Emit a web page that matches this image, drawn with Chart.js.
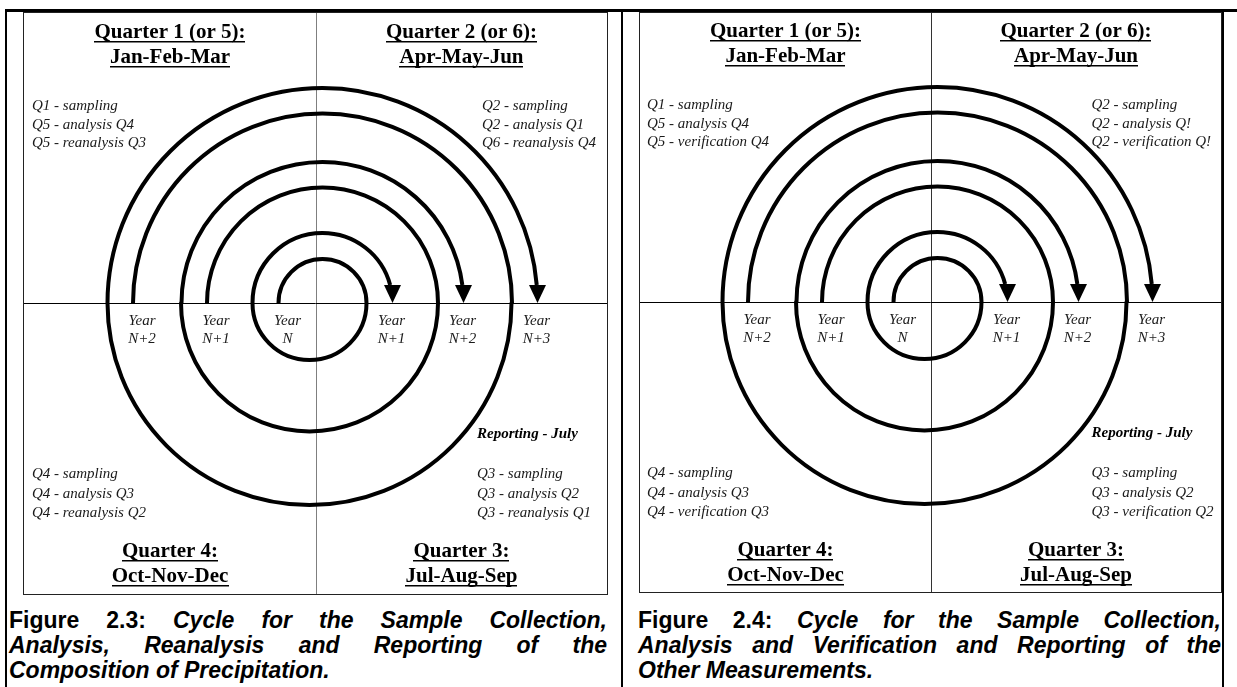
<!DOCTYPE html>
<html>
<head>
<meta charset="utf-8">
<script src="https://cdn.jsdelivr.net/npm/chart.js@4.4.1/dist/chart.umd.min.js"></script>
<style>
    html, body { margin: 0; padding: 0; background: #fff; }
    body { width: 1237px; height: 687px; position: relative; overflow: hidden; }
    .rule { position: absolute; background: #000; }
    .box { position: absolute; box-sizing: border-box; border: 1px solid #222; }
    .box canvas { display: block; }
    .caption {
        position: absolute;
        font-family: 'Liberation Sans', Arial, sans-serif;
        font-weight: bold;
        font-size: 23px;
        line-height: 25px;
        color: #000;
    }
    .caption div { white-space: nowrap; }
    .caption .j { text-align: justify; text-align-last: justify; white-space: normal; }
</style>
</head>
<body>

<div class="rule" style="left:5px; top:9px; width:1232px; height:3px;"></div>
<div class="rule" style="left:5px; top:9px; width:2px; height:678px;"></div>
<div class="rule" style="left:621px; top:9px; width:2px; height:678px;"></div>
<div class="rule" style="left:1222px; top:9px; width:2px; height:678px;"></div>

<div class="box" style="left:23px; top:12px; width:585px; height:583px;">
    <canvas id="cycle_chart_23" width="583" height="581"></canvas>
</div>
<div class="box" style="left:639px; top:12px; width:583px; height:581px;">
    <canvas id="cycle_chart_24" width="581" height="579"></canvas>
</div>

<div class="caption" id="caption_23" style="left:9px; top:608px; width:598px;"></div>
<div class="caption" id="caption_24" style="left:638px; top:608px; width:583px;"></div>

<script>
// Quarter headings (clockwise from top-left)
const quarterHeads = ['Quarter 1 (or 5):', 'Quarter 2 (or 6):', 'Quarter 3:', 'Quarter 4:'];
const quarterMonths = ['Jan-Feb-Mar', 'Apr-May-Jun', 'Jul-Aug-Sep', 'Oct-Nov-Dec'];

// Year where each spiral starts (left of centre) and where its arrow lands (right)
const yearsStart = ['N+2', 'N+1', 'N'];
const yearsEnd = ['N+3', 'N+2', 'N+1'];

// Spiral radii (outer, middle, inner spiral)
const spiralStartR = [189.5, 115.5, 44];    // first half-turn, above the axis
const spiralBottomR = [202, 128.5, 57];     // half-turn below the axis
const spiralEndR = [215, 141, 70];          // last half-turn, ends in the arrow
const topCentreX = 6.5;                     // centre of the upper half-turns
const bottomCentreX = -6.5;                 // centre of the lower half-turns

// Activity lists, figure 2.3
const tasksQ1_23 = ['Q1 - sampling', 'Q5 - analysis Q4', 'Q5 - reanalysis Q3'];
const tasksQ2_23 = ['Q2 - sampling', 'Q2 - analysis Q1', 'Q6 - reanalysis Q4'];
const tasksQ3_23 = ['Q3 - sampling', 'Q3 - analysis Q2', 'Q3 - reanalysis Q1'];
const tasksQ4_23 = ['Q4 - sampling', 'Q4 - analysis Q3', 'Q4 - reanalysis Q2'];

// Activity lists, figure 2.4
const tasksQ1_24 = ['Q1 - sampling', 'Q5 - analysis Q4', 'Q5 - verification Q4'];
const tasksQ2_24 = ['Q2 - sampling', 'Q2 - analysis Q!', 'Q2 - verification Q!'];
const tasksQ3_24 = ['Q3 - sampling', 'Q3 - analysis Q2', 'Q3 - verification Q2'];
const tasksQ4_24 = ['Q4 - sampling', 'Q4 - analysis Q3', 'Q4 - verification Q3'];

const reportingNote = 'Reporting - July';

// Captions
const captionLabel23 = 'Figure 2.3:';
const captionLines23 = ['Cycle for the Sample Collection,', 'Analysis, Reanalysis and Reporting of the', 'Composition of Precipitation.'];
const captionLabel24 = 'Figure 2.4:';
const captionLines24 = ['Cycle for the Sample Collection,', 'Analysis and Verification and Reporting of the', 'Other Measurements.'];

const SERIF = '"Liberation Serif", "Times New Roman", serif';

/**
 * Draw the three spirals (half-ellipses through the scales) with arrowheads
 */
const spiralPlugin = {
    id: 'spiral',
    afterDatasetsDraw(chart) {
        const ctx = chart.ctx;
        const xs = chart.scales.x;
        const ys = chart.scales.y;
        const px = v => xs.getPixelForValue(v);
        const py = v => ys.getPixelForValue(v);
        const unitX = px(1) - px(0);
        const unitY = py(0) - py(1);
        const arrowLen = 18;
        const arrowHalf = 8.5;
        const cy = py(0);

        ctx.save();
        ctx.strokeStyle = '#000';
        ctx.fillStyle = '#000';
        ctx.lineWidth = 4;
        ctx.lineCap = 'butt';
        ctx.lineJoin = 'round';

        for (let i = 0; i < spiralStartR.length; i++) {
            const r0 = spiralStartR[i], r1 = spiralBottomR[i], r2 = spiralEndR[i];
            const stop = Math.asin(Math.min(1, arrowLen / (r2 * unitY)));

            ctx.beginPath();
            ctx.ellipse(px(topCentreX), cy, r0 * unitX, r0 * unitY, 0, Math.PI, 2 * Math.PI);
            ctx.ellipse(px(bottomCentreX), cy, r1 * unitX, r1 * unitY, 0, 0, Math.PI);
            ctx.ellipse(px(topCentreX), cy, r2 * unitX, r2 * unitY, 0, Math.PI, 2 * Math.PI - stop);
            ctx.stroke();

            // arrowhead pointing down onto the axis
            const tipX = px(topCentreX + r2);
            ctx.beginPath();
            ctx.moveTo(tipX, cy);
            ctx.lineTo(tipX - arrowHalf, cy - arrowLen);
            ctx.lineTo(tipX + arrowHalf, cy - arrowLen);
            ctx.closePath();
            ctx.fill();
        }
        ctx.restore();
    }
};

function drawLabel(chart, text, xv, yv, font, align, underline) {
    const ctx = chart.ctx;
    const x = chart.scales.x.getPixelForValue(xv);
    const y = chart.scales.y.getPixelForValue(yv);
    ctx.font = font;
    ctx.textAlign = align;
    ctx.textBaseline = 'alphabetic';
    ctx.fillText(text, x, y);
    if (underline) {
        const w = ctx.measureText(text).width;
        const x0 = align === 'center' ? x - w / 2 : x;
        ctx.fillRect(Math.round(x0), Math.round(y + 3), Math.round(w), 1.5);
    }
}

/**
 * Quarter headings, activity lists and year labels
 */
const labelPlugin = {
    id: 'labels',
    afterDatasetsDraw(chart) {
        const p = chart.options.plugins.labels;
        const xs = chart.scales.x;
        const ctx = chart.ctx;
        const headFont = 'bold 21px ' + SERIF;
        const listFont = 'italic 15px ' + SERIF;
        const leftMid = xs.min / 2;
        const rightMid = xs.max / 2;

        ctx.save();
        ctx.fillStyle = '#000';

        // headings: Q1 top-left, Q2 top-right, Q3 bottom-right, Q4 bottom-left
        const headPos = [[leftMid, 265, 240], [rightMid, 265, 240], [rightMid, -254, -279], [leftMid, -254, -279]];
        headPos.forEach((h, i) => {
            drawLabel(chart, quarterHeads[i], h[0], h[1], headFont, 'center', true);
            drawLabel(chart, quarterMonths[i], h[0], h[2], headFont, 'center', true);
        });

        // activity lists
        ctx.fillStyle = '#1a1a1a';
        const topRows = [193, 174.5, 156];
        const bottomRows = [-175, -194.5, -214];
        p.tasks[0].forEach((t, k) => drawLabel(chart, t, -284, topRows[k], listFont, 'left'));
        p.tasks[1].forEach((t, k) => drawLabel(chart, t, p.q2X, topRows[k], listFont, 'left'));
        p.tasks[2].forEach((t, k) => drawLabel(chart, t, p.q3X, bottomRows[k], listFont, 'left'));
        p.tasks[3].forEach((t, k) => drawLabel(chart, t, -284, bottomRows[k], listFont, 'left'));

        ctx.fillStyle = '#000';
        drawLabel(chart, reportingNote, p.q3X, -135, 'bold italic 15px ' + SERIF, 'left');

        // year labels at the start of each spiral and under each arrow
        ctx.fillStyle = '#1a1a1a';
        for (let i = 0; i < yearsStart.length; i++) {
            const xStart = topCentreX - spiralStartR[i] + 9;
            const xEnd = topCentreX + spiralEndR[i] - 1;
            drawLabel(chart, 'Year', xStart, -22, listFont, 'center');
            drawLabel(chart, yearsStart[i], xStart, -40, listFont, 'center');
            drawLabel(chart, 'Year', xEnd, -22, listFont, 'center');
            drawLabel(chart, yearsEnd[i], xEnd, -40, listFont, 'center');
        }
        ctx.restore();
    }
};

/**
 * Create one quarter-cycle diagram
 */
function createCycleChart(canvasId, panel) {
    const ctx = document.getElementById(canvasId);
    if (!ctx) return null;

    return new Chart(ctx, {
        type: 'scatter',
        data: { datasets: [] },
        options: {
            responsive: false,
            animation: false,
            events: [],
            layout: { padding: 0 },
            plugins: {
                legend: { display: false },
                tooltip: { enabled: false },
                labels: panel
            },
            scales: {
                x: {
                    type: 'linear',
                    min: panel.xMin,
                    max: panel.xMax,
                    afterBuildTicks: scale => { scale.ticks = [{ value: 0 }]; },
                    ticks: { display: false },
                    grid: { color: panel.vColour, lineWidth: 1, drawTicks: false },
                    border: { display: false }
                },
                y: {
                    type: 'linear',
                    min: panel.yMin,
                    max: panel.yMax,
                    afterBuildTicks: scale => { scale.ticks = [{ value: 0 }]; },
                    ticks: { display: false },
                    grid: { color: '#000', lineWidth: 1, drawTicks: false },
                    border: { display: false }
                }
            }
        },
        plugins: [spiralPlugin, labelPlugin]
    });
}

function fillCaption(id, label, lines) {
    const el = document.getElementById(id);
    lines.forEach((line, i) => {
        const div = document.createElement('div');
        if (i < lines.length - 1) div.className = 'j';
        if (i === 0) {
            div.appendChild(document.createTextNode(label + ' '));
        }
        const it = document.createElement('i');
        it.textContent = line;
        div.appendChild(it);
        el.appendChild(div);
    });
}

createCycleChart('cycle_chart_23', {
    xMin: -292, xMax: 291, yMin: -291, yMax: 290,
    vColour: '#7f7f7f',
    q2X: 166, q3X: 161,
    tasks: [tasksQ1_23, tasksQ2_23, tasksQ3_23, tasksQ4_23]
});
createCycleChart('cycle_chart_24', {
    xMin: -291, xMax: 290, yMin: -290, yMax: 289,
    vColour: '#333',
    q2X: 160.5, q3X: 160.5,
    tasks: [tasksQ1_24, tasksQ2_24, tasksQ3_24, tasksQ4_24]
});

fillCaption('caption_23', captionLabel23, captionLines23);
fillCaption('caption_24', captionLabel24, captionLines24);
</script>
</body>
</html>
